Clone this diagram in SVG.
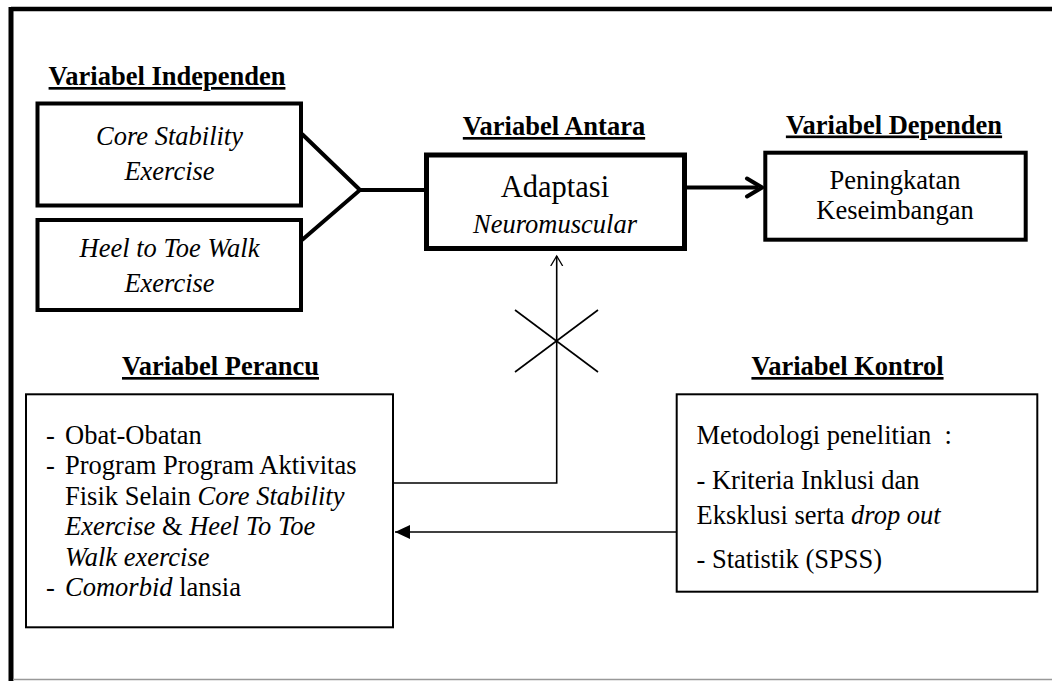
<svg xmlns="http://www.w3.org/2000/svg" width="1052" height="681" viewBox="0 0 1052 681" font-family="Liberation Serif">
<style>
.tx{fill:#000;font-size:26.5px;font-family:'Liberation Serif','Times New Roman',serif}
.t{font-weight:bold;text-decoration:underline;text-anchor:middle}
.c{text-anchor:middle}
.i{font-style:italic}
.box{fill:#fff;stroke:#000}
.thick{stroke-width:4}
.thin{stroke-width:2}
.con{fill:none;stroke:#000;stroke-linecap:butt}
</style>
<defs>
<marker id="open" markerWidth="20" markerHeight="20" refX="10" refY="10" orient="auto" markerUnits="userSpaceOnUse">
<path d="M0,4 L10,10 L0,16" fill="none" stroke="#000" stroke-width="1.3"/>
</marker>
<marker id="fill" markerWidth="20" markerHeight="20" refX="15" refY="8" orient="auto" markerUnits="userSpaceOnUse">
<path d="M0,1 L15,8 L0,15 Z" fill="#000"/>
</marker>
</defs>
<rect width="1052" height="681" fill="#fff"/>
<g id="frame">
<line x1="11" y1="9" x2="1052" y2="9" stroke="#000" stroke-width="4.5"/>
<line x1="11" y1="7" x2="11" y2="681" stroke="#000" stroke-width="5"/>
<line x1="13" y1="679.5" x2="1052" y2="679.5" stroke="#999" stroke-width="1.5"/>
</g>
<g id="connectors">
<polyline class="con" points="302,134 360,190 302,240" stroke-width="4" stroke-linejoin="miter"/>
<line class="con" x1="360" y1="190" x2="426" y2="190" stroke-width="4"/>
<line class="con" x1="686" y1="187.5" x2="758" y2="187.5" stroke-width="4"/>
<path d="M747,178.5 L762,187.5 L747,196.5" fill="none" stroke="#000" stroke-width="4" stroke-linecap="round"/>
<polyline class="con" points="394,483 556.7,483 556.7,256" stroke-width="1.6" marker-end="url(#open)"/>
<line class="con" x1="515" y1="310" x2="598" y2="372" stroke-width="1.6"/>
<line class="con" x1="515" y1="372" x2="598" y2="310" stroke-width="1.6"/>
<line class="con" x1="676" y1="532" x2="395" y2="532" stroke-width="1.6" marker-end="url(#fill)"/>
</g>
<g id="title-independen"><text class="tx t" x="167" y="85">Variabel Independen</text></g>
<g id="title-antara"><text class="tx t" x="554" y="135">Variabel Antara</text></g>
<g id="title-dependen"><text class="tx t" x="894" y="133.5">Variabel Dependen</text></g>
<g id="title-perancu"><text class="tx t" x="220.5" y="375">Variabel Perancu</text></g>
<g id="title-kontrol"><text class="tx t" x="847.5" y="375">Variabel Kontrol</text></g>
<g id="node-core">
<rect class="box thick" x="37.5" y="103.5" width="263.5" height="102"/>
<text class="tx c i" x="169.5" y="145">Core Stability</text>
<text class="tx c i" x="169.5" y="180">Exercise</text>
</g>
<g id="node-heel">
<rect class="box thick" x="37.5" y="220" width="263.5" height="90"/>
<text class="tx c i" x="169.5" y="256.5">Heel to Toe Walk</text>
<text class="tx c i" x="169.5" y="291.5">Exercise</text>
</g>
<g id="node-adaptasi">
<rect class="box" stroke-width="5" x="426.5" y="155" width="258" height="93.5"/>
<text class="tx c" x="555" y="197" style="font-size:30.5px">Adaptasi</text>
<text class="tx c i" x="555" y="233">Neuromuscular</text>
</g>
<g id="node-dependen">
<rect class="box thick" x="765.3" y="152.7" width="260.4" height="87"/>
<text class="tx c" x="895" y="188.5">Peningkatan</text>
<text class="tx c" x="895" y="218.5">Keseimbangan</text>
</g>
<g id="node-perancu">
<rect class="box thin" x="26" y="394.3" width="367" height="233"/>
<text class="tx" x="46" y="443.5">-</text><text class="tx" x="65" y="443.5">Obat-Obatan</text>
<text class="tx" x="46" y="473.5">-</text><text class="tx" x="65" y="473.5">Program Program Aktivitas</text>
<text class="tx" x="65" y="504.5">Fisik Selain <tspan class="i">Core Stability</tspan></text>
<text class="tx" x="65" y="535"><tspan class="i">Exercise</tspan> &amp; <tspan class="i">Heel To Toe</tspan></text>
<text class="tx i" x="65" y="565.5">Walk exercise</text>
<text class="tx" x="46" y="596">-</text><text class="tx" x="65" y="596"><tspan class="i">Comorbid</tspan> lansia</text>
</g>
<g id="node-kontrol">
<rect class="box thin" x="676.7" y="394.3" width="360.6" height="197.4"/>
<text class="tx" x="696.5" y="444" style="white-space:pre">Metodologi penelitian  :</text>
<text class="tx" x="696.5" y="488.5">- Kriteria Inklusi dan</text>
<text class="tx" x="696.5" y="523.5">Eksklusi serta <tspan class="i">drop out</tspan></text>
<text class="tx" x="696.5" y="567.5">- Statistik (SPSS)</text>
</g>
</svg>
